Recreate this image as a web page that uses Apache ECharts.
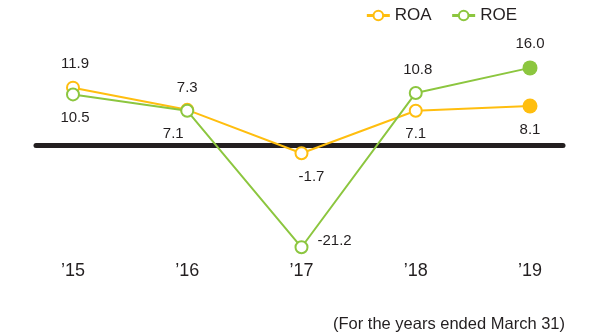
<!DOCTYPE html>
<html>
<head>
<meta charset="utf-8">
<script src="https://cdn.jsdelivr.net/npm/echarts@6/dist/echarts.min.js"></script>
<style>
  html, body { margin: 0; padding: 0; background: #fff; }
  #chart { width: 593px; height: 335px; }
</style>
</head>
<body>
<div id="chart"></div>
<script>
// Fiscal years
const years = ['\u201915', '\u201916', '\u201917', '\u201918', '\u201919'];
// Return on assets (%)
const roa = [11.9, 7.3, -1.7, 7.1, 8.1];
// Return on equity (%)
const roe = [10.5, 7.1, -21.2, 10.8, 16.0];

const ROA_COLOR = '#FFBE0F';
const ROE_COLOR = '#8CC63F';
const TEXT = '#231F20';
const FONT = '"Liberation Sans", Arial, Helvetica, sans-serif';

// per-point label placement for each series
const roaLabelPos = ['top', 'top', 'bottom', 'bottom', 'bottom'];
const roaLabelOffset = [[2, 0], [0, 2], [10, 0], [0, 0], [0, 0]];
const roeLabelPos = ['bottom', 'bottom', 'right', 'top', 'top'];
const roeLabelOffset = [[2, 0], [-14, 0], [0, -6], [2, 0], [0, 0]];

function buildData(values, positions, offsets, color) {
  return values.map((v, i) => {
    const last = i === values.length - 1;
    const item = {
      value: v,
      symbolSize: last ? 15 : 12,
      label: { position: positions[i], offset: offsets[i] }
    };
    if (last) item.itemStyle = { color: color, borderColor: color, borderWidth: 0 };
    return item;
  });
}

function lineSeries(name, values, positions, offsets, color, z) {
  return {
    name: name, type: 'line', xAxisIndex: 0, yAxisIndex: 0,
    symbol: 'circle', z: z,
    lineStyle: { width: 2, color: color },
    itemStyle: { color: '#fff', borderColor: color, borderWidth: 2 },
    label: {
      show: true, fontSize: 15, color: TEXT, distance: 9, fontFamily: FONT,
      formatter: p => p.value.toFixed(1)
    },
    data: buildData(values, positions, offsets, color)
  };
}

const chart = echarts.init(document.getElementById('chart'));

const yCommon = {
  type: 'value', min: -25, max: 20, interval: 5,
  axisLine: { show: false }, axisTick: { show: false },
  axisLabel: { show: false }, splitLine: { show: false }
};

chart.setOption({
  animation: false,
  textStyle: { fontFamily: FONT },
  legend: {
    top: 2, right: 71,
    itemWidth: 23, itemHeight: 12, itemGap: 19,
    lineStyle: { width: 3 },
    textStyle: { fontSize: 17, color: TEXT, fontFamily: FONT },
    data: ['ROA', 'ROE']
  },
  grid: [
    { left: 73, right: 63, top: 48.6, height: 217 },
    { left: 36, right: 30, top: 48.6, height: 217 }
  ],
  xAxis: [
    {
      type: 'category', data: years, boundaryGap: false, gridIndex: 0,
      axisLine: { show: false }, axisTick: { show: false },
      axisLabel: { fontSize: 18, color: TEXT, margin: 5, verticalAlign: 'middle', fontFamily: FONT },
      splitLine: { show: false }
    },
    {
      // zero baseline spanning the wider grid
      type: 'category', data: years, gridIndex: 1,
      axisLine: { show: true, onZero: true, lineStyle: { color: TEXT, width: 5 } },
      axisTick: { show: false }, axisLabel: { show: false }
    }
  ],
  yAxis: [
    Object.assign({ gridIndex: 0 }, yCommon),
    Object.assign({ gridIndex: 1 }, yCommon)
  ],
  series: [
    lineSeries('ROA', roa, roaLabelPos, roaLabelOffset, ROA_COLOR, 3),
    lineSeries('ROE', roe, roeLabelPos, roeLabelOffset, ROE_COLOR, 4)
  ],
  graphic: [
    {
      type: 'text', right: 28, top: 316,
      style: { text: '(For the years ended March 31)', fill: TEXT, font: '16.5px ' + FONT }
    }
  ]
});
</script>
</body>
</html>
